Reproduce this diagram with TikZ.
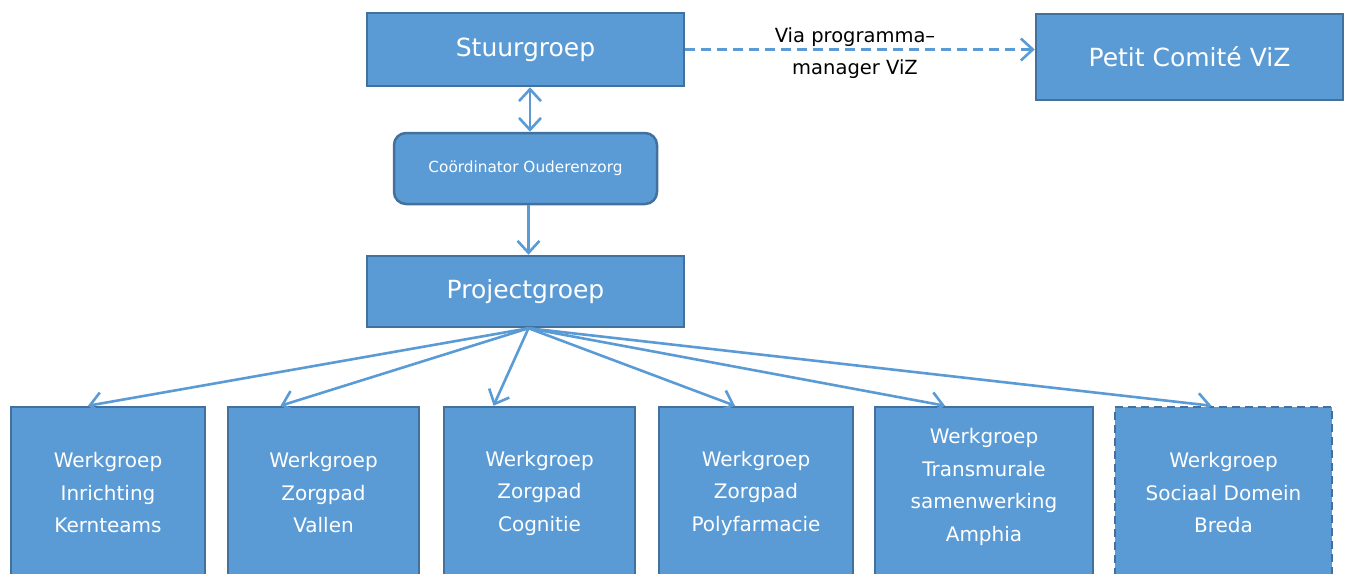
\documentclass[tikz,border=0pt]{standalone}
\usepackage{fontspec}
\setmainfont{DejaVu Sans}
\usetikzlibrary{arrows.meta}
\definecolor{boxfill}{HTML}{5B9BD5}
\definecolor{boxline}{HTML}{41719C}
\definecolor{arrowc}{HTML}{5B9BD5}
\begin{document}
\begin{tikzpicture}[x=1pt,y=-1pt,
  box/.style={draw=boxline, fill=boxfill, line width=2.5pt, inner sep=0pt,
    text=white, align=center},
  bigbox/.style={box, font={\fontsize{25}{30}\selectfont}},
  wgbox/.style={box, minimum height=172pt, font={\fontsize{20}{32.5}\selectfont}},
  conn/.style={draw=arrowc, line width=2.6pt, line join=round,
    -{Straight Barb[length=12pt,width=22pt]}},
  dconn/.style={conn, dash pattern=on 10pt off 6pt},
]
\useasboundingbox (0,0) rectangle (1346,573);
\clip (0,0) rectangle (1346,573);

\node[bigbox, minimum width=317pt, minimum height=73pt] (sg) at (525.5,49.5) {Stuurgroep};
\node[bigbox, minimum width=307pt, minimum height=86pt] (pc) at (1189.5,57) {Petit Comité ViZ};
\node[box, rounded corners=12pt, minimum width=263pt, minimum height=71pt,
  font={\fontsize{15.3}{18}\selectfont}] (co) at (525.5,168.5) {Coördinator Ouderenzorg};
\node[bigbox, minimum width=317pt, minimum height=71pt] (pg) at (525.5,291.5) {Projectgroep};

\node[wgbox, minimum width=194pt] (w1) at (108,493) {Werkgroep\\Inrichting\\Kernteams};
\node[wgbox, minimum width=191pt] (w2) at (323.5,493) {Werkgroep\\Zorgpad\\Vallen};
\node[wgbox, minimum width=191pt] (w3) at (539.5,493) {Werkgroep\\Zorgpad\\Cognitie};
\node[wgbox, minimum width=194pt] (w4) at (756,493) {Werkgroep\\Zorgpad\\Polyfarmacie};
\node[wgbox, minimum width=218pt] (w5) at (984,493)
  {\raisebox{0pt}[\height][\dimexpr\depth+14pt\relax]{\begin{tabular}{@{}c@{}}Werkgroep\\Transmurale\\samenwerking\\Amphia\end{tabular}}};
\node[wgbox, minimum width=217pt, dash pattern=on 8pt off 5pt] (w6) at (1223.5,493) {Werkgroep\\Sociaal Domein\\Breda};

\node[font={\fontsize{19.5}{32}\selectfont}, align=center, text=black] (lab) at (855,53)
  {Via programma--\\manager ViZ};

\draw[dconn] (sg.east) -- (sg.east -| pc.west);
\draw[conn, {Straight Barb[length=12pt,width=22pt]}-{Straight Barb[length=12pt,width=22pt]}]
  ([xshift=4.5pt]sg.south) -- ([xshift=4.5pt]sg.south |- co.north);
\draw[conn] ([xshift=3pt]co.south) -- ([xshift=3pt]co.south |- pg.north);

\coordinate (fo) at ([xshift=3pt]pg.south);
\draw[conn] (fo) -- ([xshift=-20pt]w1.north);
\draw[conn] (fo) -- ([xshift=-43pt]w2.north);
\draw[conn] (fo) -- ([xshift=-46pt]w3.north);
\draw[conn] (fo) -- ([xshift=-21pt]w4.north);
\draw[conn] (fo) -- ([xshift=-39pt]w5.north);
\draw[conn] (fo) -- ([xshift=-12pt]w6.north);
\end{tikzpicture}
\end{document}
